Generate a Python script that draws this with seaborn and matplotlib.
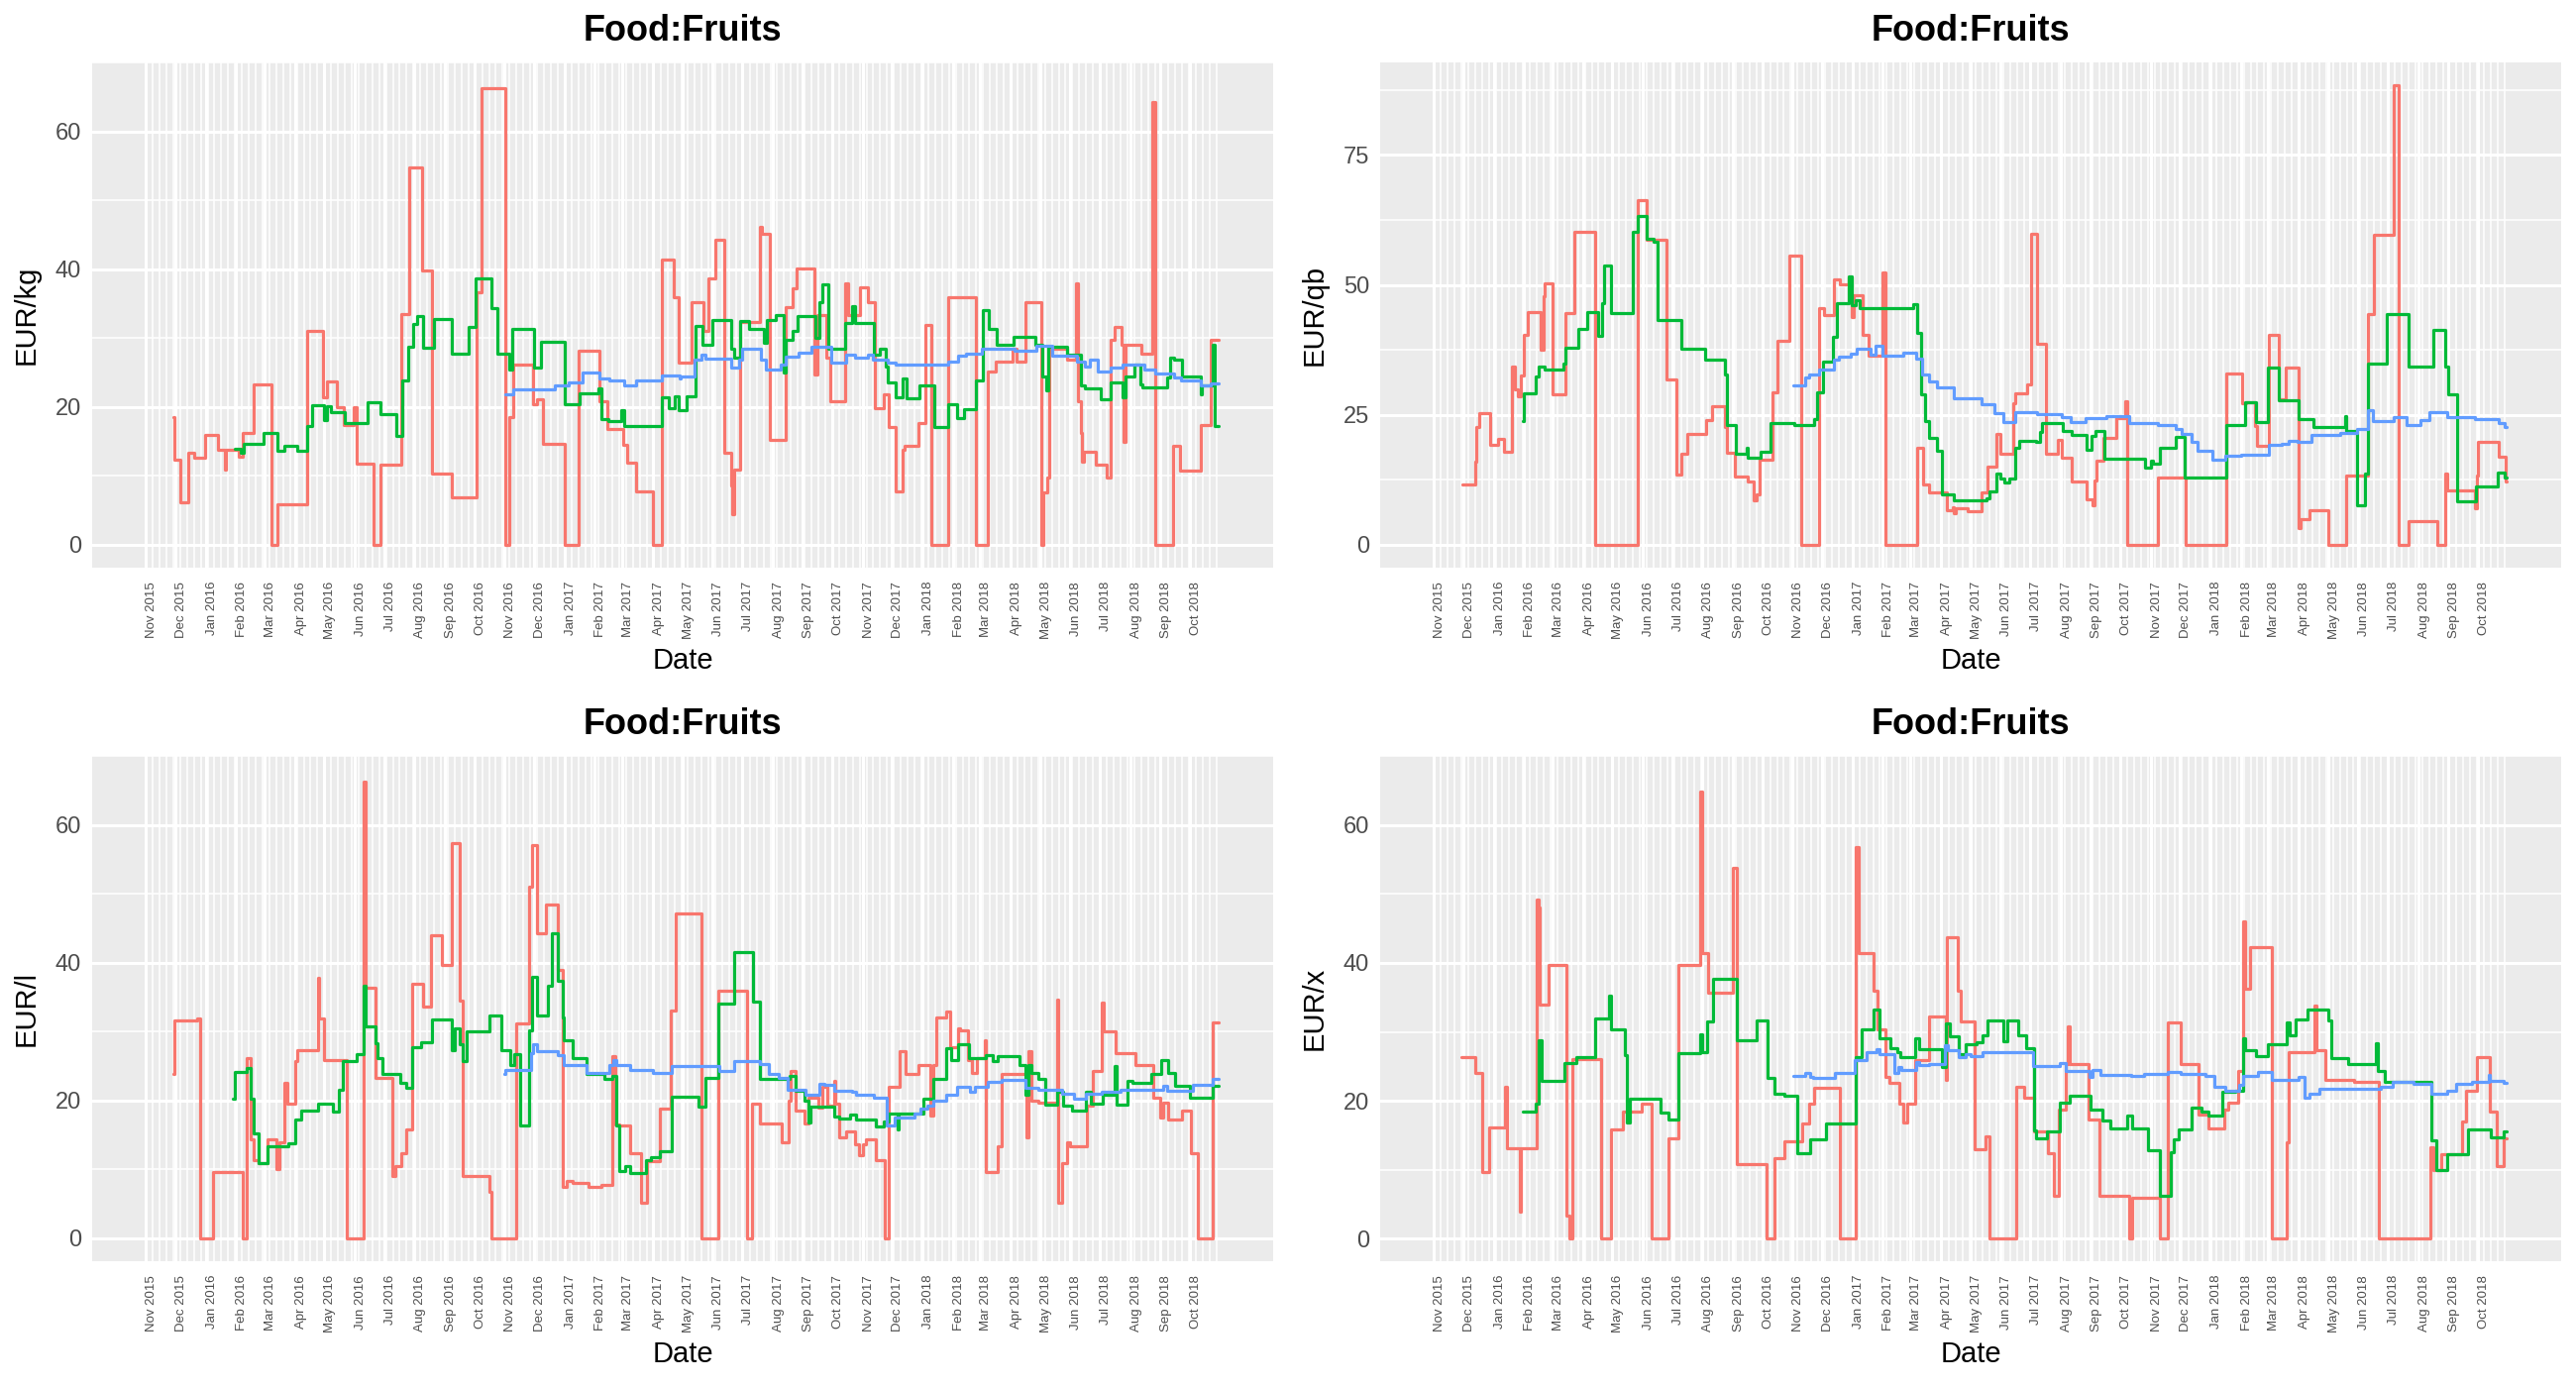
import numpy as np
import pandas as pd
import matplotlib
matplotlib.use("Agg")
import matplotlib.pyplot as plt
import seaborn as sns

# ---------------- data (time in months since 2015-11-01, value) ----------------
kg_red = [(0.95,18.5),(0.98,12.4),(1.18,6.2),(1.44,13.3),(1.63,12.6),(1.97,16.0),(2.42,13.8),(2.63,10.9),(2.67,13.8),
 (3.10,12.8),(3.25,16.3),(3.61,23.3),(4.22,0),(4.43,5.9),(5.41,31.0),(5.97,21.4),(6.08,23.7),(6.40,20.0),(6.65,17.4),
 (6.98,20.0),(7.07,11.8),(7.64,0),(7.87,11.6),(8.58,33.5),(8.82,54.8),(9.26,39.8),(9.56,10.4),(10.22,6.9),(11.08,36.6),
 (11.23,66.2),(12.03,0),(12.16,18.6),(12.28,26.1),(12.98,20.4),(13.11,21.1),(13.28,14.6),(14.00,0),(14.48,28.2),
 (15.18,20.9),(15.45,16.8),(16.04,14.5),(16.16,11.9),(16.45,7.8),(17.00,0),(17.30,41.4),(17.71,35.9),(17.89,26.5),
 (18.30,35.2),(18.69,31.0),(18.85,38.6),(19.11,44.3),(19.40,13.3),(19.62,8.6),(19.67,4.4),(19.72,10.9),(19.93,32.3),
 (20.60,46.1),(20.65,45.1),(20.92,15.3),(21.44,34.5),(21.68,37.2),(21.80,40.1),(22.41,24.7),(22.50,33.4),(22.79,27.1),
 (22.92,20.8),(23.42,38.0),(23.52,33.3),(23.90,37.4),(24.18,35.2),(24.41,19.9),(24.73,21.9),(24.88,17.1),(25.13,7.8),
 (25.34,13.8),(25.42,14.4),(25.88,17.7),(26.11,31.9),(26.31,0),(26.86,36.0),(27.84,0),(28.26,25.2),(28.50,26.6),
 (29.08,28.5),(29.21,26.6),(29.49,35.2),(30.05,0),(30.12,7.6),(30.25,9.7),(30.30,28.5),(30.88,26.9),(31.20,38.0),
 (31.25,20.9),(31.36,16.2),(31.40,12.1),(31.46,13.5),(31.85,11.6),(32.22,9.7),(32.35,29.7),(32.47,31.6),(32.70,29.1),
 (32.78,15.0),(32.83,29.0),(33.36,27.8),(33.74,64.3),(33.81,0),(34.43,14.4),(34.67,10.8),(35.35,17.4),(35.69,29.7),
 (35.93,29.7)]
kg_green = [(2.95,14.0),(3.17,13.3),(3.27,14.7),(3.97,16.2),(4.44,13.6),(4.64,14.3),(5.09,13.7),(5.43,17.2),(5.59,20.2),
 (5.99,18.1),(6.09,20.1),(6.23,19.3),(6.68,17.7),(7.43,20.7),(7.89,18.9),(8.40,15.8),(8.59,23.8),(8.80,28.8),(8.96,32.1),
 (9.08,33.2),(9.27,28.6),(9.63,32.8),(10.24,27.7),(10.81,31.6),(11.03,38.6),(11.56,34.4),(11.77,27.8),(12.15,25.4),
 (12.24,31.4),(13.00,25.7),(13.23,29.5),(14.02,20.4),(14.50,22.0),(15.14,22.7),(15.23,18.3),(15.48,17.9),(15.97,19.6),
 (16.06,17.2),(17.30,21.4),(17.54,19.9),(17.74,21.5),(17.88,19.6),(18.14,21.6),(18.43,31.7),(18.67,29.0),(19.00,32.6),
 (19.64,28.5),(19.72,27.1),(19.94,32.5),(20.23,31.3),(20.72,29.3),(20.83,32.6),(21.10,33.4),(21.38,25.0),(21.44,29.7),
 (21.67,31.1),(21.82,33.2),(22.42,30.0),(22.56,35.2),(22.68,37.8),(22.88,28.4),(23.43,32.2),(23.66,34.6),(23.76,32.2),
 (24.40,27.6),(24.58,28.4),(24.78,25.9),(24.87,23.5),(25.12,21.4),(25.35,24.1),(25.48,21.2),(25.91,23.1),(26.40,17.1),
 (26.84,20.4),(27.16,18.4),(27.41,19.7),(27.86,23.8),(28.09,34.0),(28.28,31.3),(28.53,29.0),(29.09,30.2),(29.83,29.0),
 (30.08,24.5),(30.21,22.4),(30.27,28.7),(30.88,27.6),(31.35,23.1),(31.48,22.7),(32.02,21.1),(32.37,23.5),(32.75,21.4),
 (32.85,24.5),(33.13,26.2),(33.32,23.3),(33.41,22.8),(34.21,24.3),(34.31,27.2),(34.44,26.9),(34.72,24.5),(35.35,21.9),
 (35.39,23.1),(35.73,29.0),(35.80,17.2),(35.93,17.2)]
kg_blue = [(12.01,21.8),(12.30,22.5),(13.68,23.1),(14.15,23.5),(14.59,25.0),(15.17,24.1),(15.52,23.9),(16.06,23.1),
 (16.44,23.9),(17.30,24.6),(17.90,24.1),(17.95,24.5),(18.42,26.9),(18.64,27.6),(18.75,27.0),(19.64,25.7),(19.89,26.9),
 (20.02,28.4),(20.61,26.9),(20.78,25.4),(21.29,26.1),(21.44,27.3),(21.85,27.9),(22.30,28.7),(22.96,26.4),(23.45,27.6),
 (23.76,27.1),(24.17,27.6),(24.36,26.9),(24.87,26.4),(25.12,26.2),(26.84,26.6),(27.18,27.4),(27.48,27.8),(28.07,28.5),
 (29.13,28.2),(29.89,28.9),(30.40,27.4),(31.22,26.6),(31.48,25.9),(31.67,26.9),(31.92,25.2),(32.37,25.7),(32.75,26.2),
 (33.45,25.4),(33.83,24.8),(34.46,24.3),(34.68,23.8),(35.35,23.1),(35.67,23.4),(35.93,23.4)]

qb_red = [(0.98,11.6),(1.39,16.0),(1.42,22.6),(1.54,25.3),(1.90,19.2),(2.16,20.3),(2.35,17.8),(2.60,34.3),(2.70,29.9),
 (2.81,28.6),(2.89,32.5),(2.99,40.3),(3.14,44.8),(3.59,37.5),(3.68,47.8),(3.74,50.3),(3.99,28.9),(4.41,44.6),(4.73,60.2),
 (5.41,0),(6.84,66.4),(7.15,58.6),(7.82,31.9),(8.13,13.5),(8.32,17.5),(8.49,21.3),(9.12,24.0),(9.31,26.7),(9.73,22.6),
 (9.82,17.7),(10.08,13.2),(10.50,12.2),(10.71,8.6),(10.81,9.7),(10.90,16.4),(11.32,29.4),(11.51,39.3),(11.90,55.7),
 (12.30,0),(12.91,45.6),(13.07,44.2),(13.38,51.0),(13.60,50.2),(13.89,51.5),(13.99,43.8),(14.05,48.1),(14.34,40.3),
 (14.53,36.4),(15.00,52.4),(15.08,0),(16.22,18.6),(16.41,11.6),(16.60,10.0),(17.20,6.7),(17.42,7.3),(17.46,6.0),
 (17.52,7.0),(17.90,6.4),(18.05,6.5),(18.39,10.0),(18.58,15.1),(18.87,21.3),(18.99,17.5),(19.44,27.3),(19.51,29.2),
 (19.91,30.8),(20.04,59.8),(20.23,38.6),(20.51,17.5),(20.93,20.2),(21.06,16.8),(21.38,12.1),(21.86,8.8),(22.07,7.6),
 (22.14,12.4),(22.20,16.2),(22.42,20.6),(22.88,24.3),(23.15,27.6),(23.22,0),(24.24,13.0),(25.19,0),(26.52,33.0),
 (27.06,27.3),(27.18,27.5),(27.51,22.9),(27.60,19.1),(28.02,40.3),(28.36,28.0),(28.56,34.0),(29.00,3.2),(29.06,5.0),
 (29.36,6.7),(30.02,0),(30.59,13.3),(31.33,44.3),(31.54,59.7),(32.18,88.4),(32.34,0),(32.69,4.6),(33.64,0),(33.89,13.7),
 (33.96,10.5),(34.88,7.1),(34.95,13.3),(35.01,19.8),(35.67,17.0),(35.90,12.2),(35.93,12.2)]
qb_green = [(2.95,23.8),(2.99,29.2),(3.40,32.4),(3.50,34.3),(3.74,33.7),(4.35,34.9),(4.41,38.0),(4.86,41.6),(5.14,44.8),
 (5.53,40.2),(5.65,46.4),(5.71,53.7),(5.94,44.6),(6.68,60.2),(6.83,63.3),(7.15,58.9),(7.37,58.4),(7.51,43.3),(8.32,37.8),
 (9.10,35.7),(9.73,32.7),(9.82,23.0),(10.10,17.5),(10.48,18.6),(10.52,16.8),(10.93,17.8),(11.28,23.5),(12.05,23.0),
 (12.72,24.1),(12.84,29.4),(13.04,35.3),(13.36,40.0),(13.49,46.5),(13.89,51.6),(13.98,46.1),(14.11,47.0),(14.25,45.6),
 (16.09,46.3),(16.22,40.7),(16.35,28.9),(16.50,23.8),(16.60,20.6),(16.86,18.1),(17.04,9.7),(17.46,8.6),(18.54,8.9),
 (18.64,10.3),(18.87,13.7),(19.00,12.7),(19.13,11.9),(19.30,12.7),(19.51,18.6),(19.64,20.0),(20.19,19.7),(20.33,21.7),
 (20.40,23.5),(21.08,21.9),(21.38,21.1),(21.86,18.2),(22.01,21.0),(22.16,21.8),(22.48,16.5),(23.83,14.9),(24.01,16.2),
 (24.08,15.6),(24.32,18.7),(24.84,20.8),(25.15,13.0),(26.52,23.0),(27.16,27.5),(27.54,23.7),(27.98,34.0),(28.36,27.8),
 (29.00,24.1),(29.51,22.6),(30.55,24.8),(30.59,21.9),(30.94,7.6),(31.22,13.7),(31.33,34.9),(31.96,44.3),(32.69,34.3),
 (33.51,41.3),(33.89,34.3),(33.99,28.9),(34.30,8.4),(34.93,11.2),(35.65,13.8),(35.86,13.0),(35.93,13.0)]
qb_blue = [(12.01,30.6),(12.43,32.1),(12.56,32.7),(12.91,33.7),(13.38,35.6),(13.55,36.2),(13.93,36.8),(14.15,37.8),
 (14.59,36.5),(14.75,38.2),(15.00,36.4),(15.76,37.0),(16.18,35.9),(16.40,32.7),(16.63,31.4),(16.86,30.3),(17.46,28.1),
 (18.36,27.1),(18.80,25.4),(19.09,23.6),(19.51,25.5),(20.23,25.2),(21.06,24.5),(21.34,23.7),(21.82,24.3),(22.52,24.8),
 (23.28,23.5),(24.24,23.1),(24.87,22.2),(25.06,21.3),(25.38,19.7),(25.57,18.1),(26.08,16.4),(26.50,17.2),(27.03,17.3),
 (28.02,19.2),(28.43,19.4),(28.66,20.0),(28.96,19.7),(29.44,21.1),(30.40,21.6),(30.97,22.2),(31.33,25.9),(31.48,23.8),
 (32.18,24.5),(32.62,23.0),(33.07,24.0),(33.36,25.6),(33.96,24.5),(34.91,24.1),(35.67,23.5),(35.86,22.6),(35.93,22.6)]

l_red = [(0.95,23.8),(0.98,31.6),(1.72,31.9),(1.83,0),(2.25,9.6),(3.24,0),(3.36,26.2),(3.52,14.3),(3.63,11.4),(3.80,10.9),
 (4.10,14.3),(4.38,10.1),(4.50,14.0),(4.64,22.6),(4.76,19.6),(5.01,25.7),(5.08,27.3),(5.78,37.8),(5.81,31.9),(5.99,25.8),
 (6.74,0),(7.30,66.2),(7.37,36.4),(7.72,23.3),(8.27,9.1),(8.36,10.5),(8.55,12.3),(8.72,15.8),(8.91,36.9),(9.27,33.6),
 (9.54,44.0),(9.89,39.6),(10.24,57.4),(10.50,34.5),(10.59,9.1),(11.51,6.7),(11.58,0),(12.40,31.2),(12.84,51.0),
 (12.94,57.1),(13.09,44.2),(13.38,48.5),(13.77,39.0),(13.93,7.4),(14.08,8.3),(14.27,8.0),(14.78,7.4),(15.25,7.7),
 (15.64,26.4),(15.76,16.5),(15.90,16.4),(16.25,12.3),(16.60,5.2),(16.82,11.2),(17.24,18.8),(17.62,33.0),(17.77,47.2),
 (18.62,0),(19.19,35.9),(20.17,0),(20.33,19.6),(20.59,16.7),(21.31,13.9),(21.53,20.0),(21.59,24.3),(21.76,18.5),
 (22.07,16.6),(22.20,20.4),(22.52,19.0),(22.68,22.0),(22.84,19.3),(23.07,22.8),(23.09,19.5),(23.24,14.6),(23.45,15.5),
 (23.76,13.6),(23.88,12.1),(24.01,13.6),(24.11,14.4),(24.46,11.3),(24.74,0),(24.90,22.0),(25.25,27.1),(25.44,23.9),
 (25.87,25.1),(26.27,17.8),(26.37,25.2),(26.46,32.0),(26.78,32.9),(26.90,27.7),(27.18,30.5),(27.25,30.2),(27.56,25.9),
 (27.69,24.0),(27.89,26.2),(28.14,28.8),(28.17,9.6),(28.58,13.3),(28.71,23.9),(29.55,14.6),(29.60,27.1),(29.70,20.0),
 (29.93,19.7),(30.55,34.7),(30.59,5.2),(30.74,10.9),(30.88,14.0),(31.00,13.3),(31.55,19.3),(31.77,24.3),(32.05,34.2),
 (32.14,30.1),(32.52,26.9),(33.16,25.1),(33.77,20.4),(33.99,17.6),(34.08,19.7),(34.27,17.2),(34.73,18.5),(35.04,12.4),
 (35.26,0),(35.73,31.3),(35.93,31.3)]
l_green = [(2.91,20.2),(2.95,24.2),(3.37,24.7),(3.50,20.2),(3.63,15.2),(3.78,10.9),(4.10,13.3),(4.77,13.8),(5.03,17.2),
 (5.22,18.5),(5.79,19.6),(6.30,18.4),(6.49,21.6),(6.60,25.7),(7.06,26.7),(7.30,36.6),(7.37,30.7),(7.72,28.3),(7.79,26.2),
 (7.95,23.9),(8.52,22.6),(8.72,21.9),(8.91,27.8),(9.22,28.4),(9.58,31.7),(10.24,27.3),(10.33,30.4),(10.52,28.1),
 (10.62,25.7),(10.75,30.1),(11.51,32.3),(11.88,27.3),(12.18,25.2),(12.34,26.8),(12.53,16.4),(12.84,30.2),(12.94,37.9),
 (13.09,32.4),(13.45,36.6),(13.57,44.2),(13.77,37.4),(13.93,32.1),(13.96,28.8),(14.27,26.2),(14.72,23.9),(15.36,23.1),
 (15.65,23.5),(15.78,16.4),(15.90,9.7),(16.09,10.5),(16.25,9.5),(16.79,11.4),(16.95,11.8),(17.24,12.6),(17.65,20.5),
 (18.54,19.1),(18.75,23.3),(19.18,34.0),(19.72,41.5),(20.36,34.3),(20.59,23.2),(21.57,23.5),(21.78,21.4),(22.07,20.0),
 (22.20,16.8),(22.27,19.1),(23.07,17.7),(23.24,17.4),(23.60,17.9),(23.79,17.2),(24.46,16.3),(24.72,16.9),(24.90,18.1),
 (25.19,15.8),(25.23,18.1),(26.05,20.2),(26.37,23.1),(26.78,27.6),(26.94,25.9),(27.18,28.2),(27.60,26.2),(28.20,26.6),
 (28.40,25.7),(28.56,26.4),(29.29,25.2),(29.51,20.9),(29.60,25.2),(29.70,24.0),(29.95,23.1),(30.18,19.4),(30.56,21.2),
 (30.75,19.3),(31.07,18.5),(31.54,21.2),(31.71,19.5),(32.09,20.9),(32.49,25.0),(32.56,19.4),(32.90,22.8),(33.07,22.6),
 (33.70,23.8),(34.02,25.8),(34.25,24.0),(34.50,22.2),(35.01,20.4),(35.73,22.2),(35.93,22.2)]
l_blue = [(11.98,23.8),(12.02,24.5),(12.88,26.9),(12.97,28.2),(13.09,27.2),(13.77,26.6),(13.96,25.1),(14.72,24.0),
 (15.51,25.1),(15.67,25.8),(15.78,25.2),(16.25,24.4),(17.01,24.0),(17.65,25.0),(19.22,24.3),(19.72,25.7),(20.59,25.3),
 (20.87,23.9),(21.22,23.3),(21.50,21.5),(22.10,20.9),(22.56,22.4),(22.74,22.3),(23.07,21.4),(23.66,21.2),(23.79,20.9),
 (24.40,20.4),(24.81,16.4),(25.10,17.6),(25.32,17.5),(25.74,18.1),(25.95,18.8),(26.17,19.3),(26.37,20.0),(26.78,20.9),
 (27.16,22.0),(27.64,21.3),(27.82,22.0),(28.24,22.7),(28.71,23.0),(29.51,21.9),(29.95,21.6),(30.74,21.0),(31.13,20.3),
 (31.52,21.0),(32.05,21.3),(32.69,21.6),(34.08,22.1),(34.21,21.4),(35.10,22.3),(35.73,23.2),(35.93,23.2)]

x_red = [(0.95,26.3),(1.39,24.1),(1.62,9.7),(1.84,16.1),(2.38,22.1),(2.44,13.1),(2.85,4.0),(2.89,13.1),(3.44,49.2),
 (3.52,48.0),(3.55,33.9),(3.88,39.7),(4.47,3.3),(4.55,0),(4.64,26.1),(5.62,0),(5.97,15.9),(6.36,18.4),(6.96,19.6),
 (7.32,0),(7.89,14.5),(8.21,39.7),(8.91,64.9),(8.99,41.4),(9.19,35.7),(9.99,53.7),(10.14,10.9),(11.13,0),(11.39,11.7),
 (11.73,14.1),(12.34,16.7),(12.56,19.6),(12.72,21.9),(13.60,0),(14.11,56.8),(14.19,41.4),(14.69,35.9),(14.82,30.3),
 (15.08,23.5),(15.23,22.6),(15.59,19.6),(15.76,16.8),(15.90,19.6),(16.16,25.9),(16.60,32.3),(17.16,23.1),(17.20,43.7),
 (17.58,35.9),(17.68,31.5),(18.16,13.0),(18.50,14.8),(18.63,0),(19.54,22.0),(19.81,20.4),(20.14,15.5),(20.60,12.4),
 (20.78,6.3),(20.95,18.8),(21.19,25.4),(21.24,30.8),(21.30,25.4),(21.93,17.3),(22.29,6.2),(23.31,0),(23.39,6.0),
 (24.33,0),(24.60,31.3),(25.01,25.4),(25.60,18.0),(25.92,16.0),(26.45,18.8),(26.60,19.8),(26.90,24.4),(27.08,46.0),
 (27.15,36.2),(27.35,42.3),(28.12,0),(28.62,14.0),(28.67,27.0),(29.55,33.8),(29.62,27.3),(29.90,23.0),(30.87,22.7),
 (31.70,0),(33.40,13.2),(33.50,10.0),(33.76,12.3),(34.45,17.0),(34.60,21.5),(34.95,26.3),(35.40,18.5),(35.60,10.6),
 (35.83,14.5),(35.93,14.5)]
x_green = [(2.95,18.4),(3.40,19.6),(3.52,28.8),(3.63,22.9),(4.39,25.5),(4.77,26.3),(5.43,31.9),(5.88,35.2),(5.97,30.4),
 (6.42,26.6),(6.48,16.9),(6.58,20.3),(7.60,18.3),(7.89,17.3),(8.21,26.9),(8.91,29.6),(8.99,27.1),(9.16,31.5),(9.35,37.7),
 (10.14,28.8),(10.81,31.6),(11.16,23.3),(11.39,21.0),(11.73,20.7),(12.15,12.4),(12.60,14.4),(13.13,16.7),(14.11,26.3),
 (14.31,30.3),(14.69,33.3),(14.89,29.0),(15.27,27.7),(15.52,27.0),(15.65,26.3),(16.16,29.0),(16.28,27.5),(17.05,24.9),
 (17.18,31.2),(17.30,29.4),(17.62,26.8),(17.84,28.2),(18.20,28.5),(18.40,29.5),(18.57,31.7),(19.10,28.7),(19.23,31.6),
 (19.60,29.5),(19.87,27.7),(20.12,15.7),(20.20,14.6),(20.56,15.5),(20.97,19.7),(21.30,20.7),(21.99,18.8),(22.40,17.2),
 (22.67,16.0),(23.22,17.9),(23.39,16.0),(23.91,12.8),(24.33,6.2),(24.68,12.5),(24.80,14.4),(24.95,15.8),(25.37,19.0),
 (25.70,18.4),(25.92,17.9),(26.39,21.3),(26.80,21.5),(27.08,29.1),(27.15,27.3),(27.57,26.5),(27.99,28.2),(28.60,31.3),
 (28.70,29.5),(28.89,31.8),(29.31,33.3),(30.00,31.6),(30.10,26.2),(30.65,25.3),(31.60,28.3),(31.65,24.3),(31.90,22.8),
 (33.43,14.3),(33.60,10.0),(33.96,12.3),(34.65,15.8),(35.42,14.7),(35.83,15.5),(35.93,15.5)]
x_blue = [(12.01,23.6),(12.43,24.1),(12.60,23.4),(12.71,23.3),(13.42,24.0),(14.08,25.9),(14.47,27.1),(14.78,27.5),
 (14.89,26.7),(15.42,24.0),(15.55,24.9),(15.67,24.5),(16.18,25.6),(16.28,25.2),(16.63,25.4),(17.14,28.0),(17.23,27.3),
 (17.62,26.3),(17.84,26.7),(18.00,26.5),(18.40,27.0),(20.10,25.0),(20.97,25.5),(21.19,24.3),(21.95,23.5),(22.05,24.5),
 (22.34,23.8),(23.35,23.6),(23.78,23.9),(24.60,24.2),(25.01,23.9),(25.85,23.6),(26.14,22.0),(26.50,21.5),(26.95,22.3),
 (27.08,23.6),(27.63,24.2),(28.12,23.0),(29.00,23.4),(29.20,20.5),(29.36,21.0),(29.72,21.7),(30.10,21.8),(31.76,22.0),
 (32.17,22.8),(32.86,22.5),(33.43,21.0),(33.95,21.5),(34.26,22.5),(34.78,22.8),(35.36,23.8),(35.40,22.9),(35.83,22.6),
 (35.93,22.6)]

panel_titles = ["Food:Fruits", "Food:Fruits", "Food:Fruits", "Food:Fruits"]
panel_ylabels = ["EUR/kg", "EUR/qb", "EUR/l", "EUR/x"]
panel_yticks = [[0, 20, 40, 60], [0, 25, 50, 75], [0, 20, 40, 60], [0, 20, 40, 60]]
panel_series = [(kg_red, kg_green, kg_blue), (qb_red, qb_green, qb_blue),
                (l_red, l_green, l_blue), (x_red, x_green, x_blue)]
series_names = ["s1", "s2", "s3"]
series_colors = ["#F8766D", "#00BA38", "#619CFF"]
data_start, data_end = "2015-11-01", "2018-10-31"

# ---------------- helpers ----------------
BASE = pd.Timestamp(data_start)

def months_to_dates(ms):
    out = []
    for m in ms:
        k = int(np.floor(m))
        f = m - k
        s = BASE + pd.DateOffset(months=k)
        e = BASE + pd.DateOffset(months=k + 1)
        out.append(s + (e - s) * f)
    return pd.to_datetime(out)

# ---------------- style ----------------
sns.set_theme(style="darkgrid")
plt.rcParams["font.family"] = ["Liberation Sans", "DejaVu Sans"]

fig = plt.figure(figsize=(26, 14), dpi=100, facecolor="white")
W, H = 2600, 1400
pw, ph = 1192, 510
positions = [(93, 573), (1393, 573), (93, 1273), (1393, 1273)]

start = pd.Timestamp(data_start)
end = pd.Timestamp(data_end)
span = end - start
xmin, xmax = start - span * 0.05, end + span * 0.05
major = pd.date_range(data_start, "2018-10-01", freq="MS")
minor = pd.date_range(data_start, data_end, freq="7D")

for i in range(4):
    lx, by = positions[i]
    ax = fig.add_axes([lx / W, 1 - by / H, pw / W, ph / H])
    frames = []
    for name, ser in zip(series_names, panel_series[i]):
        t = [p[0] for p in ser]
        v = [p[1] for p in ser]
        frames.append(pd.DataFrame({"Date": months_to_dates(t), "value": v, "series": name}))
    df = pd.concat(frames, ignore_index=True)
    sns.lineplot(data=df, x="Date", y="value", hue="series", hue_order=series_names,
                 palette=dict(zip(series_names, series_colors)), estimator=None,
                 drawstyle="steps-post", linewidth=2.3, legend=False, ax=ax, sort=False)

    ax.set_facecolor("#EBEBEB")
    for s in ax.spines.values():
        s.set_visible(False)
    ax.set_xlim(xmin, xmax)
    ymax = df["value"].max()
    ax.set_ylim(-0.05 * ymax, 1.05 * ymax)

    ax.set_xticks(major)
    ax.set_xticklabels([d.strftime("%b %Y") for d in major], rotation=90, ha="left", va="top")
    ax.set_xticks(minor, minor=True)
    yt = panel_yticks[i]
    ax.set_yticks(yt)
    ax.set_yticklabels([str(y) for y in yt])
    step = yt[1] - yt[0]
    ax.set_yticks([y + step / 2 for y in yt], minor=True)

    ax.grid(which="major", color="white", linewidth=2.2)
    ax.grid(which="minor", color="white", linewidth=1.1)
    ax.set_axisbelow(True)
    ax.tick_params(axis="both", which="major", length=5, width=1.6, color="#333333",
                   labelcolor="#4D4D4D")
    ax.tick_params(axis="both", which="minor", length=0)
    ax.tick_params(axis="x", which="major", labelsize=9.5, pad=5)
    ax.tick_params(axis="y", which="major", labelsize=17, pad=3)

    ax.set_title(panel_titles[i], fontsize=26, fontweight="bold", pad=16, color="black")
    ax.set_xlabel("Date", fontsize=21, color="black")
    ax.set_ylabel(panel_ylabels[i], fontsize=21, color="black")
    ax.xaxis.set_label_coords(0.5, -(667 - 573) / ph)
    ax.xaxis.label.set_va("center")
    ax.yaxis.set_label_coords(-(93 - 27) / pw, 0.5)
    ax.yaxis.label.set_rotation_mode("default")
    ax.yaxis.label.set_va("center")
    ax.yaxis.label.set_ha("center")

fig.savefig("out.png", dpi=100, facecolor="white")
